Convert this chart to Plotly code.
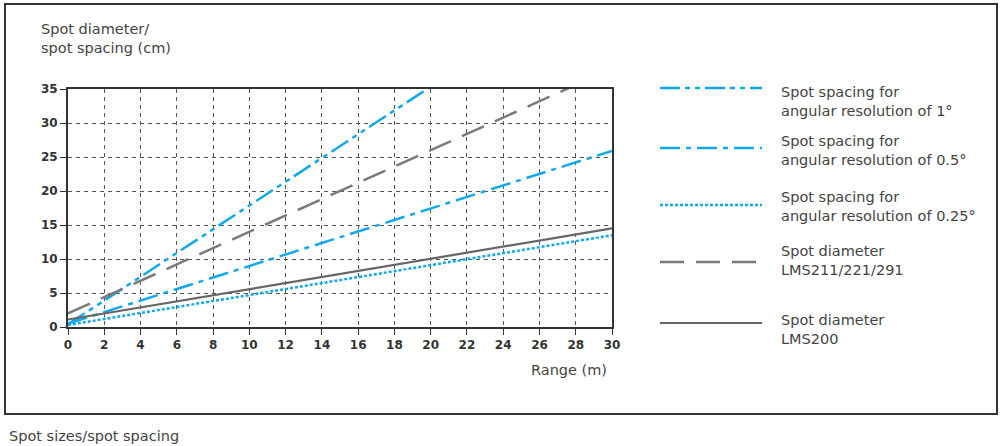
import plotly.graph_objects as go

# data (range in m, spot size in cm)
range_m = [0, 30]
spacing_1deg = [0.4, 52.8]
spacing_05deg = [0.5, 25.9]
spacing_025deg = [0.3, 13.5]
diam_lms211 = [2.0, 38.0]
diam_lms200 = [1.1, 14.5]

x_ticks = list(range(0, 31, 2))
y_ticks = list(range(0, 36, 5))

legend_labels = [
    "Spot spacing for<br>angular resolution of 1°",
    "Spot spacing for<br>angular resolution of 0.5°",
    "Spot spacing for<br>angular resolution of 0.25°",
    "Spot diameter<br>LMS211/221/291",
    "Spot diameter<br>LMS200",
]

BLUE = "#12a9ec"
GREY = "#7a7a7a"
DARK = "#666666"
FONT = "DejaVu Sans"

styles = [
    dict(color=BLUE, width=2.5, dash="20px,5px,5px,5px,5px,5px"),
    dict(color=BLUE, width=2.5, dash="20px,6px,5px,6px"),
    dict(color=BLUE, width=2.5, dash="3px,2px"),
    dict(color=GREY, width=2.5, dash="24px,12px"),
    dict(color=DARK, width=2.2, dash="solid"),
]
series = [spacing_1deg, spacing_05deg, spacing_025deg, diam_lms211, diam_lms200]

fig = go.Figure()
for ys, st in zip(series, styles):
    fig.add_trace(go.Scatter(x=range_m, y=ys, mode="lines", line=st,
                             showlegend=False, hoverinfo="skip"))

# plot area in pixels: x 68..612, y 89..327
L, R, T, B = 68, 612, 89, 327


def px(x):
    return (x - L) / (R - L)


def py(y):
    return (B - y) / (B - T)


shapes = [
    # outer frame
    dict(type="rect", xref="paper", yref="paper", x0=px(5), x1=px(997),
         y0=py(414), y1=py(4), line=dict(color="#333", width=2)),
]
annotations = [
    dict(text="Spot diameter/<br>spot spacing (cm)", x=px(39), y=py(38),
         xanchor="left", yanchor="middle", align="left"),
    dict(text="Range (m)", x=px(609), y=py(370), xanchor="right",
         yanchor="middle"),
    dict(text="Spot sizes/spot spacing", x=px(7), y=py(436), xanchor="left",
         yanchor="middle"),
]

sample_y = [88, 148, 205, 262, 323]
text_y = [101, 150, 206, 260, 329]
for lab, st, sy, ty in zip(legend_labels, styles, sample_y, text_y):
    shapes.append(dict(type="line", xref="paper", yref="paper",
                       x0=px(660), x1=px(762), y0=py(sy), y1=py(sy),
                       line=st))
    annotations.append(dict(text=lab, x=px(779), y=py(ty), xanchor="left",
                            yanchor="middle", align="left"))

for a in annotations:
    a.update(xref="paper", yref="paper", showarrow=False,
             font=dict(family=FONT, size=14.5, color="#444"))

tick_font = dict(family=FONT, size=12, color="#333", weight="bold")
fig.update_layout(
    width=1000, height=446,
    margin=dict(l=L, r=1000 - R, t=T, b=446 - B),
    plot_bgcolor="white", paper_bgcolor="white",
    shapes=shapes, annotations=annotations,
    xaxis=dict(range=[0, 30], tickvals=x_ticks, showgrid=True,
               gridcolor="#555", griddash="4px,4px", gridwidth=1,
               showline=True, linecolor="#333", linewidth=2, mirror=True,
               ticks="outside", ticklen=6, tickcolor="#333", zeroline=False,
               tickfont=tick_font),
    yaxis=dict(range=[0, 35], tickvals=y_ticks, showgrid=True,
               gridcolor="#555", griddash="4px,4px", gridwidth=1,
               showline=True, linecolor="#333", linewidth=2, mirror=True,
               ticks="outside", ticklen=6, tickcolor="#333", zeroline=False,
               tickfont=tick_font),
)

fig.write_html("out.html", config={"displayModeBar": False},
               post_script="document.body.style.margin='0';")
